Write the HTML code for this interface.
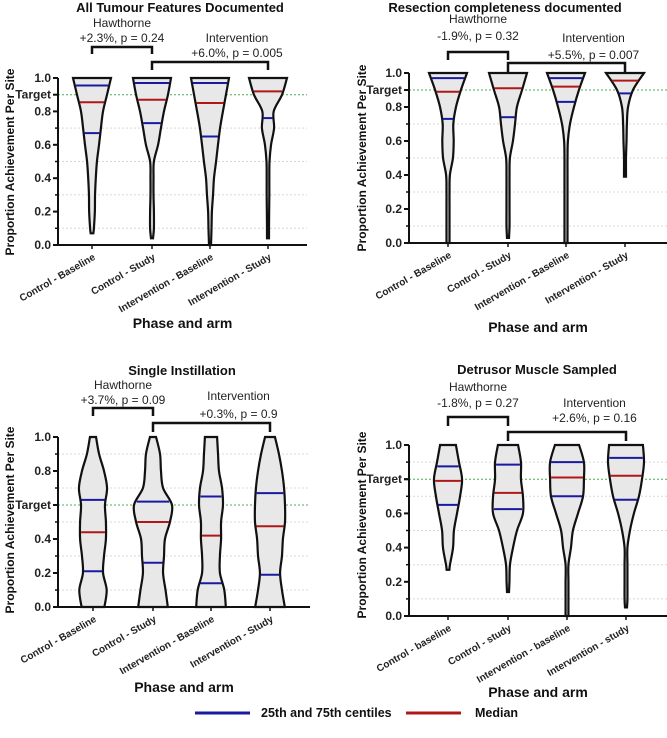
<!DOCTYPE html>
<html><head><meta charset="utf-8">
<style>
body{margin:0;background:#fff;}
svg{display:block;font-family:"Liberation Sans",Arial,sans-serif;}
</style></head>
<body>
<svg id="fig" width="667" height="738" viewBox="0 0 667 738">
<g id="legend">
<line x1="195" y1="713" x2="250" y2="713" stroke="#1a1aa0" stroke-width="3"/>
<text x="261" y="717" font-size="12.5" font-weight="bold" fill="#111">25th and 75th centiles</text>
<line x1="406" y1="713" x2="461" y2="713" stroke="#b01818" stroke-width="3"/>
<text x="475" y="717" font-size="12.5" font-weight="bold" fill="#111">Median</text>
</g>
</svg>
<script>
// ---- data ----
const grid = [0,0.1,0.2,0.3,0.4,0.5,0.6,0.7,0.8,0.9,1.0];
const catsA = ["Control - Baseline","Control - Study","Intervention - Baseline","Intervention - Study"];
const catsD = ["Control - baseline","Control - study","Intervention - baseline","Intervention - study"];
const titles = ["All Tumour Features Documented","Resection completeness documented","Single Instillation","Detrusor Muscle Sampled"];
const targets = [0.9,0.9,0.6,0.8];
const hawthorneText = ["+2.3%, p = 0.24","-1.9%, p = 0.32","+3.7%, p = 0.09","-1.8%, p = 0.27"];
const interventionText = ["+6.0%, p = 0.005","+5.5%, p = 0.007","+0.3%, p = 0.9","+2.6%, p = 0.16"];
const minsA=[0.07,0.04,0,0.04], q1A=[0.67,0.73,0.65,0.76], medA=[0.855,0.87,0.85,0.92], q3A=[0.955,0.97,0.97,1.0];
const minsB=[0,0.03,0,0.39], q1B=[0.73,0.74,0.83,0.88], medB=[0.89,0.91,0.92,0.955], q3B=[0.97,1.0,0.97,1.0];
const minsC=[0,0,0,0], q1C=[0.21,0.26,0.14,0.19], medC=[0.44,0.5,0.42,0.475], q3C=[0.63,0.62,0.65,0.67];
const minsD=[0.27,0.14,0,0.05], q1D=[0.65,0.625,0.70,0.68], medD=[0.79,0.72,0.81,0.82], q3D=[0.875,0.885,0.90,0.925];
const densA=[[0,0.1,0.15,0.16,0.2,0.26,0.37,0.47,0.58,0.79,1],[0,0.1,0.1,0.08,0.08,0.1,0.32,0.47,0.63,0.84,1],[0.05,0.08,0.1,0.16,0.21,0.32,0.42,0.53,0.68,0.84,1],[0,0.05,0.06,0.07,0.07,0.08,0.16,0.32,0.3,0.74,1]];
const densB=[[0.08,0.08,0.08,0.08,0.1,0.26,0.3,0.28,0.42,0.68,1],[0,0.08,0.08,0.08,0.08,0.1,0.26,0.37,0.47,0.74,1],[0.08,0.08,0.08,0.08,0.08,0.08,0.1,0.21,0.42,0.68,1],[0,0,0,0,0.05,0.05,0.08,0.1,0.16,0.42,1]];
const densC=[[0.6,0.72,0.53,0.58,0.68,0.68,0.63,0.74,0.58,0.32,0.16],[0.78,0.66,0.53,0.58,0.63,0.89,1,0.53,0.42,0.37,0.16],[0.78,0.7,0.47,0.47,0.53,0.53,0.63,0.58,0.42,0.37,0.32],[0.78,0.63,0.53,0.63,0.68,0.79,0.79,0.74,0.63,0.47,0.26]];
const densD=[[0,0,0,0.11,0.28,0.33,0.5,0.67,0.78,0.61,0.44],[0,0,0.08,0.11,0.28,0.5,0.83,0.83,0.72,0.72,0.56],[0.08,0.08,0.08,0.08,0.22,0.33,0.61,0.89,0.94,0.94,0.67],[0,0.08,0.08,0.08,0.08,0.22,0.44,0.72,0.89,1,0.94]];
const tickVals=[0,0.2,0.4,0.6,0.8,1.0];
const tickLabels=["0.0","0.2","0.4","0.6","0.8","1.0"];
// ---- layout ----
const panels=[
 {ax:58,axEnd:307,y0:245,y1:78,cx:[92,152,210,268],maxW:19,cats:catsA,mins:minsA,q1:q1A,med:medA,q3:q3A,dens:densA,titleX:180,titleY:12,ytX:14,ytY:162,xtY:328,hb:[47,54],ib:[62,70],ht:[27,42],it:[42,57]},
 {ax:409,axEnd:667,y0:243,y1:73,cx:[448,508,566,625],maxW:19,cats:catsA,mins:minsB,q1:q1B,med:medB,q3:q3B,dens:densB,titleX:505,titleY:12,ytX:366,ytY:158,xtY:332,hb:[52,60],ib:[63,72],ht:[23,40],it:[42,59]},
 {ax:58,axEnd:310,y0:607,y1:437,cx:[93,153,211,270],maxW:19,cats:catsA,mins:minsC,q1:q1C,med:medC,q3:q3C,dens:densC,titleX:182,titleY:375,ytX:14,ytY:520,xtY:692,hb:[408,416],ib:[423,432],ht:[389,404],it:[400,418]},
 {ax:409,axEnd:667,y0:616,y1:445,cx:[448,508,567,626],maxW:18,cats:catsD,mins:minsD,q1:q1D,med:medD,q3:q3D,dens:densD,titleX:537,titleY:374,ytX:366,ytY:525,xtY:697,hb:[417,426],ib:[432,441],ht:[391,407],it:[407,422]}
];
const NS="http://www.w3.org/2000/svg";
const svg=document.getElementById('fig');
function mk(tag,attrs,parent,txt){const e=document.createElementNS(NS,tag);for(const k in attrs)e.setAttribute(k,attrs[k]);if(txt!==undefined)e.textContent=txt;(parent||svg).appendChild(e);return e;}
function interp(d,v){if(v<=0)return d[0];if(v>=1)return d[10];const i=Math.floor(v*10);const t=v*10-i;return d[i]*(1-t)+d[i+1]*t;}
function smoothPath(pts){let s=`M${pts[0][0]},${pts[0][1]}`;for(let i=0;i<pts.length-1;i++){const p0=pts[Math.max(i-1,0)],p1=pts[i],p2=pts[i+1],p3=pts[Math.min(i+2,pts.length-1)];s+=` C${p1[0]+(p2[0]-p0[0])/6},${p1[1]+(p2[1]-p0[1])/6} ${p2[0]-(p3[0]-p1[0])/6},${p2[1]-(p3[1]-p1[1])/6} ${p2[0]},${p2[1]}`;}return s;}
panels.forEach((P,pi)=>{
 const g=mk('g',{});
 
 
 const y=v=>P.y0+(P.y1-P.y0)*v;
 const t=mk('text',{x:P.titleX,y:P.titleY,'text-anchor':'middle','font-size':13,'font-weight':'bold',fill:'#111'},g,titles[pi]);
 
 
 [0.1,0.3,0.5,0.7,0.9].forEach(v=>{if(Math.abs(v-targets[pi])<1e-6)return;const l=mk('line',{x1:P.ax,x2:P.axEnd,y1:y(v),y2:y(v),stroke:'#d8d8d8','stroke-width':1,'stroke-dasharray':'2,2'},g);
  
  });
 const tl=mk('line',{x1:P.ax,x2:P.axEnd,y1:y(targets[pi]),y2:y(targets[pi]),stroke:'#4caf50','stroke-width':1,'stroke-dasharray':'2,2'},g);
 
 
 P.cx.forEach((cx,k)=>{
  const d=P.dens[k], mn=P.mins[k], mx=1.0;
  const vals=[mn];grid.forEach(v=>{if(v>mn+0.02&&v<mx)vals.push(v);});vals.push(mx);
  const w=vals.map(v=>Math.max(1,interp(d,v)*P.maxW));
  const right=vals.map((v,i)=>[cx+w[i],y(v)]);
  const left=vals.map((v,i)=>[cx-w[i],y(v)]).reverse();
  let path=smoothPath(right)+` L${left[0][0]},${left[0][1]}`+smoothPath(left).replace(/^M[^C]*/,'')+' Z';
  const vp=mk('path',{d:path,fill:'#e8e8e8',stroke:'#111','stroke-width':2.2},g);
  
  
  const hw=v=>Math.max(1,interp(d,v)*P.maxW);
  [[P.q1[k],'#1a1aa0','q1'],[P.q3[k],'#1a1aa0','q3'],[P.med[k],'#b01818','median']].forEach(([v,c,nm])=>{
   if(v>=0.995)return;
   const ln=mk('line',{x1:cx-hw(v)+1,x2:cx+hw(v)-1,y1:y(v),y2:y(v),stroke:c,'stroke-width':2},g);
   
   
  });
  const xl=mk('text',{x:cx+4,y:P.y0+14,'text-anchor':'end','font-size':10,'font-weight':'bold',fill:'#222',transform:`rotate(-30 ${cx+4} ${P.y0+14})`},g,P.cats[k]);
  
  
  mk('line',{x1:cx,x2:cx,y1:P.y0,y2:P.y0+4,stroke:'#111','stroke-width':1.5},g);
 });
 const ya=mk('path',{d:`M${P.ax},${y(1)} L${P.ax},${P.y0} L${P.axEnd},${P.y0}`,fill:'none',stroke:'#111','stroke-width':2},g);
 
 
 for(let v=0.1;v<1;v+=0.2)mk('line',{x1:P.ax-3,x2:P.ax,y1:y(v),y2:y(v),stroke:'#111','stroke-width':1.5},g);
 tickVals.forEach((v,i)=>{
  const isT=Math.abs(v-targets[pi])<1e-6;
  mk('line',{x1:P.ax-5,x2:P.ax,y1:y(v),y2:y(v),stroke:'#111','stroke-width':2},g);
  if(!isT){const tx=mk('text',{x:P.ax-7,y:y(v)+4,'text-anchor':'end','font-size':12,'font-weight':'bold',fill:'#222'},g,tickLabels[i]);
  
  }
 });
 mk('line',{x1:P.ax-5,x2:P.ax,y1:y(targets[pi]),y2:y(targets[pi]),stroke:'#111','stroke-width':2},g);
 const tt=mk('text',{x:P.ax-7,y:y(targets[pi])+4,'text-anchor':'end','font-size':12,'font-weight':'bold',fill:'#222'},g,'Target');
 
 
 const yt=mk('text',{x:P.ytX,y:P.ytY,'text-anchor':'middle','font-size':12,'font-weight':'bold',fill:'#111',transform:`rotate(-90 ${P.ytX} ${P.ytY})`},g,'Proportion Achievement Per Site');
 
 
 const xt=mk('text',{x:(P.ax+P.axEnd)/2,y:P.xtY,'text-anchor':'middle','font-size':14,'font-weight':'bold',fill:'#111'},g,'Phase and arm');
 
 
 const c=P.cx;
 const hb=mk('path',{d:`M${c[0]},${P.hb[1]} L${c[0]},${P.hb[0]} L${c[1]},${P.hb[0]} L${c[1]},${P.hb[1]}`,fill:'none',stroke:'#111','stroke-width':2.5},g);
 
 
 const ib=mk('path',{d:`M${c[1]},${P.ib[1]} L${c[1]},${P.ib[0]} L${c[3]},${P.ib[0]} L${c[3]},${P.ib[1]}`,fill:'none',stroke:'#111','stroke-width':2.5},g);
 
 
 const hx=(c[0]+c[1])/2, ix=(c[2]+c[3])/2-2;
 const h1=mk('text',{x:hx,y:P.ht[0],'text-anchor':'middle','font-size':12,fill:'#222'},g,'Hawthorne');
 
 
 const h2=mk('text',{x:hx,y:P.ht[1],'text-anchor':'middle','font-size':12,fill:'#222'},g,hawthorneText[pi]);
 
 
 const i1=mk('text',{x:ix,y:P.it[0],'text-anchor':'middle','font-size':12,fill:'#222'},g,'Intervention');
 
 
 const i2=mk('text',{x:ix,y:P.it[1],'text-anchor':'middle','font-size':12,fill:'#222'},g,interventionText[pi]);
 
 
});
</script>
</body></html>
